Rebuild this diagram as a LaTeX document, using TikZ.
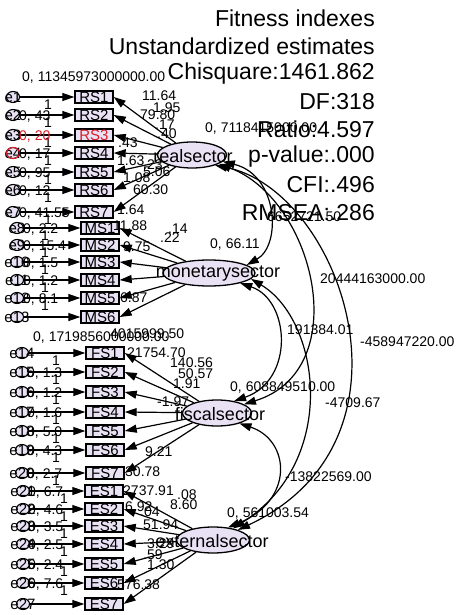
\documentclass[tikz,border=0pt]{standalone}
\usepackage{fontspec}
\setmainfont{Liberation Sans}
\usetikzlibrary{arrows.meta,shapes.geometric}
\definecolor{lav}{RGB}{233,226,245}
\definecolor{errred}{RGB}{220,30,40}
\begin{document}
\begin{tikzpicture}[x=1pt,y=-1pt,
  obs/.style={draw,line width=1.4pt,fill=lav,minimum width=38pt,minimum height=12pt,inner sep=0pt,font=\fontsize{15}{15}\selectfont},
  errc/.style={ellipse,draw,line width=1.1pt,fill=lav,minimum width=13pt,minimum height=11pt,inner sep=0pt},
  errt/.style={font=\fontsize{15}{15}\selectfont,inner sep=0pt},
  latc/.style={ellipse,draw,line width=1.3pt,fill=lav,minimum height=26pt,inner sep=0pt},
  latt/.style={font=\fontsize{18}{18}\selectfont,inner sep=0pt},
  reg/.style={-{Triangle[length=12pt,width=8pt]},line width=1.2pt},
  cov/.style={{Triangle[length=12pt,width=8pt]}-{Triangle[length=12pt,width=8pt]},line width=1.2pt},
  lbl/.style={font=\fontsize{14}{14}\selectfont,inner sep=0pt,anchor=west},
  fitt/.style={font=\fontsize{23}{23}\selectfont,anchor=east,inner sep=0pt}]
\useasboundingbox (0,0) rectangle (457,615);
\fill[white] (0,0) rectangle (457,615);

% fit indexes
\node[fitt] (f1) at (375,18) {Fitness indexes};
\node[fitt] (f2) at (375,46) {Unstandardized estimates};
\node[fitt] (f3) at (375,74) {Chisquare:1461.862};
\node[fitt] (f4) at (375,102) {DF:318};
\node[fitt] (f5) at (375,129) {Ratio:4.597};
\node[fitt] (f6) at (375,157) {p-value:.000};
\node[fitt] (f7) at (375,185) {CFI:.496};
\node[fitt] (f8) at (375,213) {RMSEA:.286};

% latent ellipses
\node[latc,minimum width=69pt] (real) at (192,155) {};
\node[latc,minimum width=92pt] (mon) at (209,273) {};
\node[latc,minimum width=69pt] (fis) at (217,413) {};
\node[latc,minimum width=73pt] (ext) at (213,540) {};

% observed + errors
\foreach \i/\y in {1/97,2/115,3/135,4/153,5/172,6/190,7/212}{
  \node[obs] (rs\i) at (94,\y) {RS\i};
  \node[errc] (e\i) at (13,\y) {};
  \draw[reg] (e\i) -- (rs\i.west);
  \draw[reg] (real) -- (rs\i.east);
  \node[errt] at (13,\y) {e\i};
  \node[lbl] at (44,\y+8) {1};
}
\foreach \i/\y [evaluate=\i as \k using int(\i+7)] in {1/228,2/245,3/262,4/280,5/298,6/317}{
  \node[obs] (ms\i) at (100,\y) {MS\i};
  \node[errc] (e\k) at (17,\y) {};
  \draw[reg] (e\k) -- (ms\i.west);
  \draw[reg] (mon) -- (ms\i.east);
  \node[errt] at (17,\y) {e\k};
}
\foreach \i/\y [evaluate=\i as \k using int(\i+13)] in {1/353,2/372,3/392,4/412,5/431,6/450,7/473}{
  \node[obs] (fs\i) at (105,\y) {FS\i};
  \node[errc] (e\k) at (22,\y) {};
  \draw[reg] (e\k) -- (fs\i.west);
  \draw[reg] (fis) -- (fs\i.east);
  \node[errt] at (22,\y) {e\k};
  \node[lbl] at (52,\y+8) {1};
}
\foreach \i/\y [evaluate=\i as \k using int(\i+20)] in {1/491,2/509,3/526,4/544,5/564,6/583,7/604}{
  \node[obs] (es\i) at (104,\y) {ES\i};
  \node[errc] (e\k) at (23,\y) {};
  \draw[reg] (e\k) -- (es\i.west);
  \draw[reg] (ext) -- (es\i.east);
  \node[errt] at (23,\y) {e\k};
}
\foreach \i/\y in {1/228,2/245,3/262,4/280,5/298}{\node[lbl] at (41,\y+8) {1};}
\foreach \i/\y in {1/491,2/509,3/526,4/544,5/564,6/583}{\node[lbl] at (60,\y+8) {1};}
\draw[errred,line width=1.1pt] (e4) ellipse (6.5pt and 5.5pt);
\node[obs,text=errred] at (94,135) {RS3};

% error variances
\node[lbl] at (22,78) {0, 11345973000000.00};
\node[lbl] at (33,338) {0, 1719856000000.00};
\foreach \x/\y/\t in {19/117/{0, 43},19/155/{0, 17},19/174/{0, 95},19/192/{0, 12},19/214/{0, 41.55},
  23/230/{0, 2.2},23/247/{0, 15.4},23/264/{0, 1.5},23/282/{0, 1.2},23/300/{0, 8.1},
  27/374/{0, 1.3},27/394/{0, 1.2},27/414/{0, 1.6},27/433/{0, 5.0},27/452/{0, 4.3},27/475/{0, 2.7},
  28/493/{0, 6.7},28/511/{0, 4.6},28/528/{0, 3.5},28/546/{0, 2.5},28/566/{0, 2.4},28/585/{0, 7.6}}{
  \node[lbl] at (\x,\y) {\t};
}
\node[lbl,text=errred] at (19,137) {0, 20};

% loadings
\foreach \x/\y/\t in {142/96/11.64,153/108/1.95,140/115/79.80,155/125/.17,157/134/.40,118/143/.43,117/161/1.63,
  143/165/.23,143/172/5.06,123/178/1.08,133/190/60.30,117/210/1.64,
  113/226/11.88,168/229/.14,160/238/.22,123/247/9.75,120/298/6.87,
  110/334/4015999.50,127/353/21754.70,170/363/140.56,178/374/50.57,173/384/1.91,157/402/-1.97,145/452/9.21,125/472/30.78,
  123/491/2737.91,177/495/.08,170/505/8.60,125/507/6.92,140/512/.04,143/525/51.94,147/544/3.29,143/555/.59,147/565/1.30,117/585/576.38}{
  \node[lbl] at (\x,\y) {\t};
}

% covariances
\draw[cov] (real.-12) .. controls (278,175) and (282,245) .. (mon.12);
\draw[cov] (real.-18) .. controls (315,200) and (355,370) .. (fis.18);
\draw[cov] (real.-24) .. controls (340,190) and (430,440) .. (ext.22);
\draw[cov] (mon.-18) .. controls (290,300) and (295,380) .. (fis.35);
\draw[cov] (mon.-8) .. controls (320,320) and (340,460) .. (ext.30);
\draw[cov] (fis.-25) .. controls (290,440) and (295,500) .. (ext.40);

\node[lbl] (c1) at (267,217) {6652721.50};
\node[lbl] (c2) at (320,279) {20444163000.00};
\node[lbl] (c3) at (360,342) {-458947220.00};
\node[lbl] (c4) at (287,330) {191384.01};
\node[lbl] (c5) at (325,403) {-4709.67};
\node[lbl] (c6) at (285,477) {-13822569.00};

% latent variances
\node[lbl] (v1) at (205,129) {0, 7118415000.00};
\node[lbl] (v2) at (210,245) {0, 66.11};
\node[lbl] (v3) at (230,388) {0, 608849510.00};
\node[lbl] (v4) at (227,514) {0, 561003.54};

% latent names
\node[latt] (realT) at (193,156) {realsector};
\node[latt] (monT) at (218,274) {monetarysector};
\node[latt] (fisT) at (220,414) {fiscalsector};
\node[latt] (extT) at (212,541) {externalsector};
\end{tikzpicture}
\end{document}
